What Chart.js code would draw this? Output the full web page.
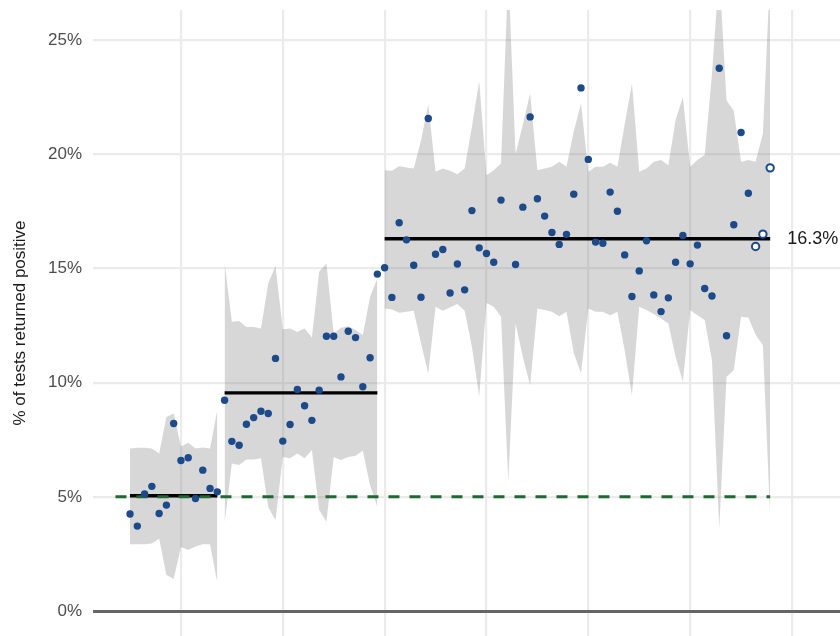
<!DOCTYPE html>
<html>
<head>
<meta charset="utf-8">
<script src="https://cdn.jsdelivr.net/npm/chart.js@4.4.1/dist/chart.umd.min.js"></script>
<style>
  html, body { margin: 0; padding: 0; background: #fff; overflow: hidden; }
  #wrap { width: 840px; height: 636px; }
  canvas { display: block; }
</style>
</head>
<body>
<div id="wrap"><canvas id="chart" width="840" height="636"></canvas></div>
<script>
// daily share of tests returned positive (%), day 0..88, null = no value
const positive = [
  4.25, 3.72, 5.13, 5.46, 4.27, 4.64, 8.21, 6.59, 6.71, 4.93, 6.17, 5.37, 5.22,
  9.23, 7.43, 7.26, 8.18, 8.47, 8.75, 8.65, 11.06, 7.44, 8.17, 9.70, 8.99, 8.35, 9.67, 12.03, 12.03, 10.25, 12.25, 11.97, 9.82, 11.09, 14.75,
  15.03, 13.73, 17.0, 16.25, 15.14, 13.74, 21.56, 15.62, 15.83, 13.92, 15.19, 14.06, 17.53, 15.9, 15.65, 15.27, 17.99, null,
  15.17, 17.68, 21.63, 18.05, 17.29, 16.57, 16.05, 16.49, 18.25, 22.9, 19.77, 16.15, 16.1, 18.34, 17.5, 15.59, 13.77, 14.89,
  16.21, 13.84, 13.11, 13.71, 15.27, 16.44, 15.2, 16.02, 14.12, 13.79, 23.76, 12.05, 16.91, 20.95, 18.29, 15.96, 16.5, 19.4
];
const upper = [
  7.12, 7.15, 7.15, 7.12, 6.9, 8.5, 8.65, 7.2, 7.37, 7.12, 7.16, 7.12, 8.8,
  15.24, 12.66, 12.7, 12.44, 12.44, 12.37, 14.34, 15.1, 12.34, 12.37, 12.22, 12.37, 11.98, 14.85, 15.21, 12.15, 12.4, 12.47, 12.3, 12.08, 13.76, 14.56,
  19.3, 19.27, 19.47, 19.42, 19.37, 20.6, 22.19, 19.23, 19.37, 19.27, 19.12, 19.37, 21.2, 23.2, 19.08, 19.3, 19.59, 28,
  20.0, 21.3, 22.65, 19.3, 19.37, 19.45, 19.67, 19.45, 21.0, 22.22, 19.23, 19.45, 19.45, 19.62, 19.45, 21.3, 23.09, 19.23,
  19.37, 19.67, 19.74, 19.52, 21.5, 22.5, 19.45, 19.74, 19.96, 23.5, 28, 22.35, 21.9, 19.67, 19.74, 19.67, 20.9, 28
];
const lower = [
  2.93, 2.93, 2.93, 2.96, 3.18, 1.58, 1.4, 2.81, 2.67, 2.83, 2.93, 2.93, 1.24,
  3.84, 6.46, 6.39, 6.64, 6.64, 6.69, 4.56, 3.98, 6.75, 6.69, 6.9, 6.69, 7.05, 4.42, 3.91, 6.75, 6.61, 6.75, 6.8, 7.02, 5.51, 4.56,
  13.25, 13.2, 13.06, 13.1, 13.15, 11.72, 10.4, 13.32, 13.15, 13.3, 13.44, 13.15, 11.57, 9.38, 13.49, 13.32, 12.88, 5.66,
  12.59, 11.13, 9.89, 13.25, 13.18, 13.1, 12.91, 13.1, 11.3, 10.4, 13.25, 13.1, 13.1, 12.95, 13.1, 11.42, 9.45, 13.32,
  13.18, 13.0, 12.81, 12.59, 11.13, 10.04, 13.18, 12.95, 12.74, 10.98, 3.62, 10.25, 10.55, 12.88, 12.85, 12.1, 11.64, 4.13
];
// periods and their average positivity
const segStart = [0, 13, 35];
const segEnd = [12, 34, 88];
const segMean = [5.05, 9.55, 16.3];
const targetRate = 5;
const targetFrom = -2;
const firstProvisionalDay = 86;
const gridDays = [7, 21, 35, 49, 63, 77, 91];
const yTicks = [0, 5, 10, 15, 20, 25];

const BLUE = '#1c4a8a';
const FONT = "'Liberation Sans', Arial, sans-serif";

function pts(arr, a, b) {
  const out = [];
  for (let d = a; d <= b; d++) {
    if (arr[d] !== null) out.push({ x: d, y: arr[d] });
  }
  return out;
}

function noPad(sc) {
  sc.paddingTop = 0;
  sc.paddingBottom = 0;
  sc.paddingLeft = 0;
  sc.paddingRight = 0;
}

const datasets = [];

datasets.push({
  label: 'positive',
  data: pts(positive, 0, positive.length - 1),
  showLine: false,
  pointRadius: 3.7,
  pointHoverRadius: 3.7,
  pointBackgroundColor: c => (c.raw && c.raw.x >= firstProvisionalDay) ? '#ffffff' : BLUE,
  pointBorderColor: BLUE,
  pointBorderWidth: c => (c.raw && c.raw.x >= firstProvisionalDay) ? 2 : 0,
  order: 0
});

datasets.push({
  label: 'target',
  data: [{ x: targetFrom, y: targetRate }, { x: segEnd[2], y: targetRate }],
  borderColor: '#1e6932',
  borderWidth: 3,
  borderDash: [11, 10],
  pointRadius: 0,
  fill: false,
  order: 1
});

for (let s = 0; s < segStart.length; s++) {
  datasets.push({
    label: 'mean' + s,
    data: [{ x: segStart[s], y: segMean[s] }, { x: segEnd[s], y: segMean[s] }],
    borderColor: '#000000',
    borderWidth: 3.4,
    pointRadius: 0,
    fill: false,
    order: 2
  });
}

for (let s = 0; s < segStart.length; s++) {
  datasets.push({
    label: 'lo' + s,
    data: pts(lower, segStart[s], segEnd[s]),
    borderWidth: 0,
    borderColor: 'rgba(0,0,0,0)',
    pointRadius: 0,
    fill: false,
    order: 3
  });
  datasets.push({
    label: 'hi' + s,
    data: pts(upper, segStart[s], segEnd[s]),
    borderWidth: 0,
    borderColor: 'rgba(0,0,0,0)',
    backgroundColor: 'rgba(125,122,122,0.3)',
    pointRadius: 0,
    fill: '-1',
    order: 3
  });
}

const lastLabel = {
  id: 'lastLabel',
  afterDatasetsDraw(chart) {
    const xs = chart.scales.x, ys = chart.scales.y;
    const ctx = chart.ctx;
    ctx.save();
    ctx.font = '18px ' + FONT;
    ctx.fillStyle = '#1a1a1a';
    ctx.textAlign = 'left';
    ctx.textBaseline = 'middle';
    ctx.fillText(segMean[2].toFixed(1) + '%', xs.getPixelForValue(segEnd[2]) + 17, ys.getPixelForValue(segMean[2]));
    ctx.restore();
  }
};

new Chart(document.getElementById('chart'), {
  type: 'line',
  data: { datasets: datasets },
  plugins: [lastLabel],
  options: {
    responsive: false,
    animation: false,
    layout: { autoPadding: false, padding: { top: 10, left: 0, right: 0, bottom: 0 } },
    plugins: { legend: { display: false }, tooltip: { enabled: false } },
    scales: {
      x: {
        type: 'linear',
        min: -5.09,
        max: 97.6,
        afterBuildTicks: sc => { sc.ticks = gridDays.map(v => ({ value: v })); },
        afterFit: sc => { sc.height = 0; noPad(sc); },
        ticks: { display: false },
        grid: { color: '#ebebeb', lineWidth: 2.2, drawTicks: false },
        border: { display: false }
      },
      y: {
        type: 'linear',
        min: -1.09,
        max: 26.31,
        afterBuildTicks: sc => { sc.ticks = yTicks.map(v => ({ value: v })); },
        afterFit: sc => { sc.width = 93; noPad(sc); },
        ticks: {
          callback: v => v + '%',
          color: '#4d4d4d',
          font: { family: FONT, size: 17 },
          padding: 11
        },
        grid: {
          color: c => c.tick && c.tick.value === 0 ? '#666666' : '#ebebeb',
          lineWidth: c => c.tick && c.tick.value === 0 ? 3 : 2.2,
          drawTicks: false
        },
        border: { display: false },
        title: {
          display: true,
          text: '% of tests returned positive',
          color: '#1a1a1a',
          font: { family: FONT, size: 17 },
          padding: { top: 10, bottom: 0 }
        }
      }
    }
  }
});
</script>
</body>
</html>
